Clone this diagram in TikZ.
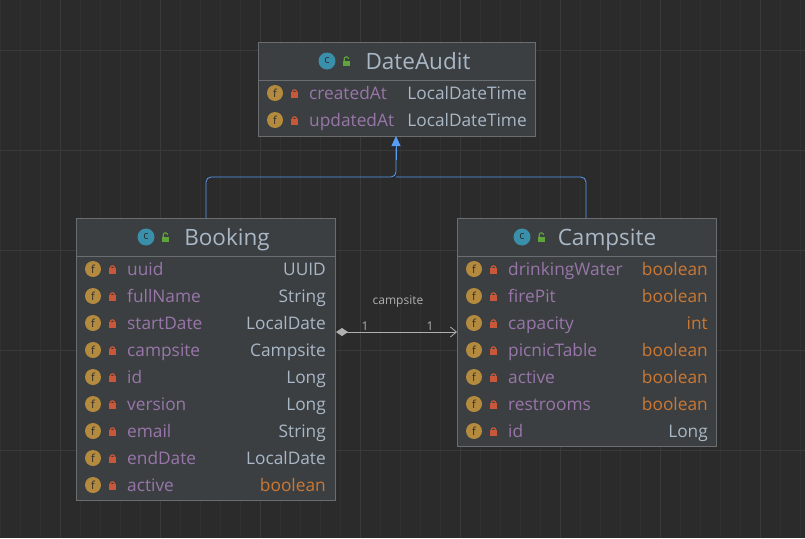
\documentclass[tikz,border=0pt]{standalone}
\usepackage{fontspec}
\setmainfont{Open Sans}
\usetikzlibrary{arrows.meta}
\definecolor{bg}{HTML}{2B2B2B}
\definecolor{gridc}{HTML}{313131}
\definecolor{gridm}{HTML}{3A3A3A}
\definecolor{boxf}{HTML}{3C3F41}
\definecolor{boxd}{HTML}{6B6E70}
\definecolor{fname}{HTML}{9876AA}
\definecolor{ftype}{HTML}{A9B7C6}
\definecolor{kw}{HTML}{CC7832}
\definecolor{ficon}{HTML}{B38A3E}
\definecolor{lockc}{HTML}{C9573A}
\definecolor{cicon}{HTML}{3A8FAA}
\definecolor{ulock}{HTML}{5FA53C}
\definecolor{blue}{HTML}{589DF6}
\definecolor{assoc}{HTML}{B0B0B0}
\tikzset{
  cls/.style={draw=boxd, fill=boxf, line width=0.8pt},
  title/.style={text=ftype, font=\fontsize{22.5}{22}\selectfont, inner sep=0, anchor=base},
  fn/.style={text=fname, font=\fontsize{17.3}{17}\selectfont, anchor=base west, inner sep=0},
  ft/.style={text=ftype, font=\fontsize{17.3}{17}\selectfont, anchor=base east, inner sep=0},
  fk/.style={text=kw, font=\fontsize{17.3}{17}\selectfont, anchor=base east, inner sep=0},
  inh/.style={draw=blue, line width=0.8pt, rounded corners=5pt},
  small/.style={text=assoc, font=\fontsize{12}{12}\selectfont, inner sep=0},
}
\newcommand{\fico}[2]{%
  \fill[ficon] (#1,#2) circle (8);
  \node[text=bg, font=\fontsize{11}{11}\selectfont, inner sep=0] at (#1,#2) {f};
  \fill[lockc] (#1+16,#2-1) rectangle (#1+23,#2+5);
  \draw[lockc, line width=1.2pt] (#1+17.3,#2-1) arc (180:360:2.2);
}
\newcommand{\cico}[2]{%
  \fill[cicon] (#1,#2) circle (8.5);
  \node[text=bg, font=\fontsize{11}{11}\selectfont, inner sep=0] at (#1,#2) {c};
  \fill[ulock] (#1+16,#2) rectangle (#1+23,#2+5);
  \draw[ulock, line width=1.1pt] (#1+17.2,#2) -- (#1+17.2,#2-2) arc (180:360:2.2);
}
\begin{document}
\begin{tikzpicture}[x=1pt,y=-1pt]
\fill[bg] (0,0) rectangle (805,538);
\useasboundingbox (0,0) rectangle (805,538);
\draw[gridc, line width=0.5pt] (0,0) grid[step=20] (805,538);
\foreach \x in {0,100,...,800} \draw[gridm] (\x+60,0) -- (\x+60,538);
\foreach \y in {0,100,...,500} \draw[gridm] (0,\y+50) -- (805,\y+50);

% DateAudit
\draw[cls] (258,42) rectangle (535,136);
\draw[boxd, line width=0.8pt] (258,80) -- (535,80);
\coordinate (daB) at (396,136);
\cico{327}{61}
\node[title] (datitle) at (418,69) {DateAudit};
\fico{275}{93} \node[fn] (da1) at (309,99) {createdAt}; \node[ft] at (527,99) {LocalDateTime};
\fico{275}{120} \node[fn] (da2) at (309,126) {updatedAt}; \node[ft] at (527,126) {LocalDateTime};

% Booking
\draw[cls] (76,218) rectangle (335,500);
\draw[boxd, line width=0.8pt] (76,256) -- (335,256);
\coordinate (bT) at (206,218);
\coordinate (bR) at (336,332);
\cico{146}{237}
\node[title] (btitle) at (227,245) {Booking};
\foreach \n/\t [count=\i from 0] in {uuid/UUID,fullName/String,startDate/LocalDate,campsite/Campsite,id/Long,version/Long,email/String,endDate/LocalDate}{
  \fico{93}{269+27*\i}
  \node[fn] at (127,275+27*\i) {\n};
  \node[ft] at (326,275+27*\i) {\t};
}
\fico{93}{485} \node[fn] at (127,491) {active}; \node[fk] at (326,491) {boolean};

% Campsite
\draw[cls] (457,218) rectangle (716,446);
\draw[boxd, line width=0.8pt] (457,256) -- (716,256);
\coordinate (cT) at (586,218);
\coordinate (cL) at (457,332);
\cico{522}{237}
\node[title] (ctitle) at (607,245) {Campsite};
\foreach \n [count=\i from 0] in {drinkingWater,firePit}{
  \fico{474}{269+27*\i} \node[fn] at (508,275+27*\i) {\n}; \node[fk] at (708,275+27*\i) {boolean};
}
\fico{474}{323} \node[fn] at (508,329) {capacity}; \node[fk] at (708,329) {int};
\foreach \n [count=\i from 3] in {picnicTable,active,restrooms}{
  \fico{474}{269+27*\i} \node[fn] at (508,275+27*\i) {\n}; \node[fk] at (708,275+27*\i) {boolean};
}
\fico{474}{431} \node[fn] at (508,437) {id}; \node[ft] at (708,437) {Long};

% inheritance
\draw[inh] (bT) -- (206,177) -- (396,177) -- (396,148);
\draw[inh] (cT) -- (586,177) -- (396,177);
\draw[blue, -{Triangle[length=10pt,width=9pt]}, line width=0.8pt] (396,160) -- (daB);

% association
\draw[assoc, line width=0.8pt, {Diamond[length=12pt,width=8pt,fill=assoc]}-{Straight Barb[length=6pt,width=10pt]}] (bR) -- (cL);
\node[small] at (398,302) {campsite};
\node[small] at (365,326) {1};
\node[small] at (430,326) {1};
\end{tikzpicture}
\end{document}
